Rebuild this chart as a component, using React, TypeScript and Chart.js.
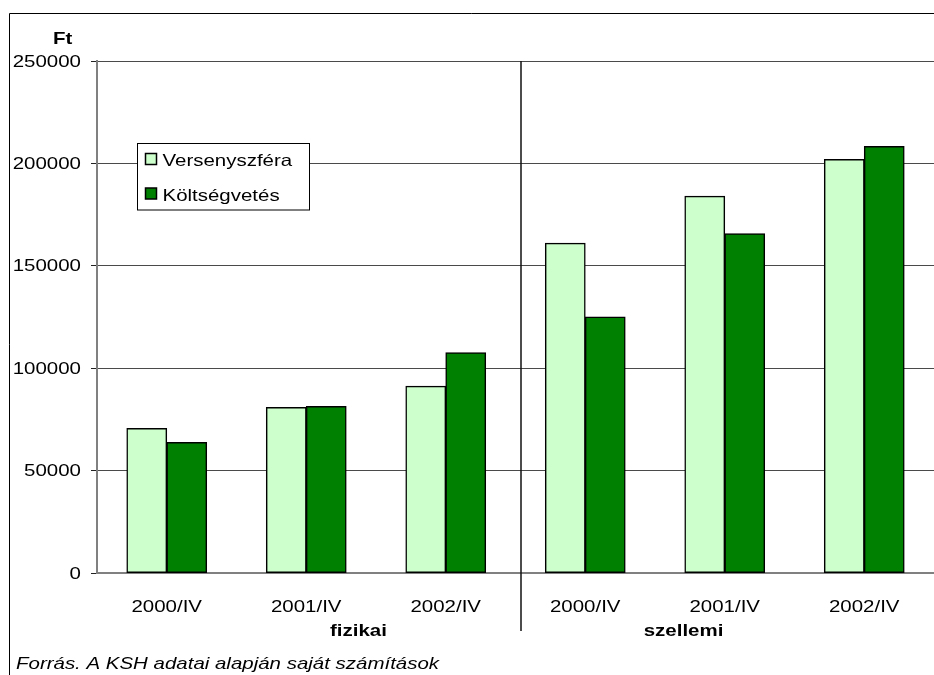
import React, { useEffect, useRef } from "react";
import { Chart, registerables } from "chart.js";

Chart.register(...registerables);

const categories: string[] = ["2000/IV", "2001/IV", "2002/IV", "2000/IV", "2001/IV", "2002/IV"];
const groupLabels: string[] = ["fizikai", "szellemi"];
const seriesNames: string[] = ["Versenyszféra", "Költségvetés"];
const versenyszfera: number[] = [70600, 80900, 91200, 161000, 184000, 202000];
const koltsegvetes: number[] = [63800, 81400, 107600, 125100, 165700, 208300];
const yTicks: number[] = [0, 50000, 100000, 150000, 200000, 250000];
const yUnit = "Ft";
const sourceNote = "Forrás. A KSH adatai alapján saját számítások";

const COLORS = ["#CCFFCC", "#008000"];
const FAMILY = '"Liberation Sans", Arial, sans-serif';
const FS = 16.5;
const SX = 1.24;

function drawStretched(
  ctx: CanvasRenderingContext2D,
  text: string,
  x: number,
  y: number,
  align: "left" | "center" | "right",
  style = ""
) {
  ctx.save();
  ctx.font = `${style} ${FS}px ${FAMILY}`.trim();
  const w = ctx.measureText(text).width * SX;
  const left = align === "right" ? x - w : align === "center" ? x - w / 2 : x;
  ctx.translate(left, y);
  ctx.scale(SX, 1);
  ctx.textAlign = "left";
  ctx.textBaseline = "alphabetic";
  ctx.fillStyle = "#000";
  ctx.fillText(text, 0, 0);
  ctx.restore();
}

const decorPlugin = {
  id: "decor",
  afterDraw(chart: any) {
    const ctx: CanvasRenderingContext2D = chart.ctx;
    const xs = chart.scales.x;
    const ys = chart.scales.y;
    const area = chart.chartArea;

    // outer frame (top and left edges)
    ctx.save();
    ctx.strokeStyle = "#000";
    ctx.lineWidth = 1;
    ctx.beginPath();
    ctx.moveTo(9.5, chart.height);
    ctx.lineTo(9.5, 13.5);
    ctx.lineTo(chart.width, 13.5);
    ctx.stroke();
    ctx.restore();

    // y tick labels
    ys.ticks.forEach((t: any) => {
      const y = ys.getPixelForValue(t.value);
      drawStretched(ctx, String(t.value), area.left - 16, y + 5.5, "right");
    });

    // x tick labels
    categories.forEach((c, i) => {
      drawStretched(ctx, c, xs.getPixelForValue(i), area.bottom + 38.5, "center");
    });

    // group separator
    const sepX = (xs.getPixelForValue(2) + xs.getPixelForValue(3)) / 2 + 5.5;
    ctx.save();
    ctx.strokeStyle = "#111";
    ctx.lineWidth = 1.5;
    ctx.beginPath();
    ctx.moveTo(sepX, area.top);
    ctx.lineTo(sepX, area.bottom + 58);
    ctx.stroke();
    ctx.restore();

    // group labels
    const step = xs.getPixelForValue(1) - xs.getPixelForValue(0);
    drawStretched(ctx, groupLabels[0], sepX - step * 1.165, area.bottom + 63, "center", "bold");
    drawStretched(ctx, groupLabels[1], sepX + step * 1.165, area.bottom + 63, "center", "bold");

    // unit label
    drawStretched(ctx, yUnit, 53, 43.5, "left", "bold");

    // source note
    drawStretched(ctx, sourceNote, 16, 669, "left", "italic");

    // legend
    ctx.save();
    ctx.fillStyle = "#fff";
    ctx.fillRect(137.5, 143.5, 172, 66.5);
    ctx.strokeStyle = "#000";
    ctx.lineWidth = 1;
    ctx.strokeRect(137.5, 143.5, 172, 66.5);
    const rows = [153.5, 188];
    chart.data.datasets.forEach((ds: any, i: number) => {
      ctx.fillStyle = ds.backgroundColor;
      ctx.fillRect(145.5, rows[i], 11, 11);
      ctx.strokeStyle = "#000";
      ctx.lineWidth = 1.5;
      ctx.strokeRect(145.5, rows[i], 11, 11);
      drawStretched(ctx, ds.label, 162.5, rows[i] + 12.5, "left");
    });
    ctx.restore();
  },
};

export default function App() {
  const ref = useRef<HTMLCanvasElement | null>(null);

  useEffect(() => {
    if (!ref.current) return;
    const barStyle = {
      borderColor: "#000",
      borderWidth: 1.5,
      borderSkipped: false,
      inflateAmount: 0.4,
      categoryPercentage: 0.573,
      barPercentage: 1,
    };
    const chart = new Chart(ref.current, {
      type: "bar",
      data: {
        labels: categories,
        datasets: [
          { label: seriesNames[0], data: versenyszfera, backgroundColor: COLORS[0], ...barStyle },
          { label: seriesNames[1], data: koltsegvetes, backgroundColor: COLORS[1], ...barStyle },
        ],
      },
      options: {
        responsive: false,
        animation: false,
        devicePixelRatio: 1,
        layout: { padding: { top: 61, right: 0, left: 0, bottom: 0 } },
        plugins: {
          legend: { display: false },
          tooltip: { enabled: false },
        },
        scales: {
          x: {
            offset: true,
            ticks: { display: false },
            grid: { display: true, drawOnChartArea: false, drawTicks: false },
            border: { display: true, color: "#808080", width: 2 },
            afterFit: (s: any) => {
              s.height = 102;
            },
          },
          y: {
            min: yTicks[0],
            max: yTicks[yTicks.length - 1],
            ticks: { display: false, stepSize: yTicks[1] - yTicks[0] },
            grid: {
              color: (c: any) => (c.tick && c.tick.value === 0 ? "rgba(0,0,0,0)" : "#4a4a4a"),
              lineWidth: 1,
              tickLength: 6,
              tickColor: "#222",
            },
            border: { display: true, color: "#808080", width: 2 },
            afterFit: (s: any) => {
              s.width = 97;
            },
          },
        },
      },
      plugins: [decorPlugin],
    });
    return () => chart.destroy();
  }, []);

  return (
    <div style={{ position: "absolute", left: 0, top: 0, width: 934, height: 675, background: "#fff" }}>
      <canvas ref={ref} width={934} height={675} style={{ display: "block" }} />
    </div>
  );
}
